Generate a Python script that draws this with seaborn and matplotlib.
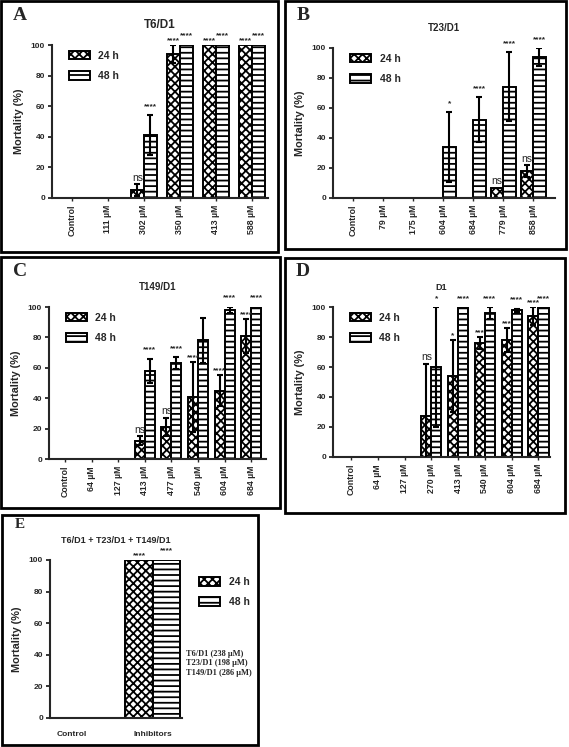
import numpy as np
import pandas as pd
import matplotlib
matplotlib.use("Agg")
import matplotlib.pyplot as plt
from matplotlib.patches import Patch, Rectangle
import seaborn as sns

# ---------------- data ----------------
hours = ["24 h", "48 h"]

a_title = "T6/D1"
a_cats = ["Control", "111 µM", "302 µM", "350 µM", "413 µM", "588 µM"]
a_24 = [0, 0, 5, 94, 100, 100]
a_24_err = [0, 0, 4, 6, 0, 0]
a_48 = [0, 0, 41, 100, 100, 100]
a_48_err = [0, 0, 13, 0, 0, 0]
a_24_sig = ["", "", "ns", "****", "****", "****"]
a_48_sig = ["", "", "****", "****", "****", "****"]

b_title = "T23/D1"
b_cats = ["Control", "79 µM", "175 µM", "604 µM", "684 µM", "779 µM", "858 µM"]
b_24 = [0, 0, 0, 0, 0, 7, 18]
b_24_err = [0, 0, 0, 0, 0, 0, 4]
b_48 = [0, 0, 0, 34, 52, 74, 94]
b_48_err = [0, 0, 0, 23, 15, 23, 6]
b_24_sig = ["", "", "", "", "", "ns", "ns"]
b_48_sig = ["", "", "", "*", "****", "****", "****"]

c_title = "T149/D1"
c_cats = ["Control", "64 µM", "127 µM", "413 µM", "477 µM", "540 µM", "604 µM", "684 µM"]
c_24 = [0, 0, 0, 12, 21, 41, 45, 81]
c_24_err = [0, 0, 0, 3, 6, 23, 10, 11]
c_48 = [0, 0, 0, 58, 63, 78, 98, 100]
c_48_err = [0, 0, 0, 8, 4, 15, 2, 0]
c_24_sig = ["", "", "", "ns", "ns", "****", "****", "****"]
c_48_sig = ["", "", "", "****", "****", "", "****", "****"]

d_title = "D1"
d_cats = ["Control", "64 µM", "127 µM", "270 µM", "413 µM", "540 µM", "604 µM", "684 µM"]
d_24 = [0, 0, 0, 27, 54, 76, 78, 94]
d_24_err = [0, 0, 0, 35, 24, 4, 8, 6]
d_48 = [0, 0, 0, 60, 100, 96, 98, 100]
d_48_err = [0, 0, 0, 40, 0, 4, 1, 0]
d_24_sig = ["", "", "", "ns", "*", "***", "***", "****"]
d_48_sig = ["", "", "", "*", "****", "****", "****", "****"]

e_title = "T6/D1 + T23/D1 + T149/D1"
e_cats = ["Control", "Inhibitors"]
e_24 = [0, 100]
e_24_err = [0, 0]
e_48 = [0, 100]
e_48_err = [0, 0]
e_24_sig = ["", "****"]
e_48_sig = ["", "****"]
e_note = ["T6/D1 (238 µM)", "T23/D1 (198 µM)", "T149/D1 (286 µM)"]

yticks = [0, 20, 40, 60, 80, 100]

# ---------------- style ----------------
sns.set_theme(style="ticks")
plt.rcParams["font.family"] = ["Liberation Sans", "DejaVu Sans"]
plt.rcParams["hatch.linewidth"] = 1.3
plt.rcParams["hatch.color"] = "black"

W, H = 569, 747
fig = plt.figure(figsize=(W / 100, H / 100), dpi=100)
fig.patch.set_facecolor("white")

HATCH = {"24 h": "xxxx", "48 h": "---"}


def ax_px(l, t, r, b):
    return fig.add_axes([l / W, 1 - b / H, (r - l) / W, (b - t) / H])


def panel(rect_px, cats, v24, e24, v48, e48, s24, s48, title, xlim, width,
          title_size=7.5, legend_anchor=(0.06, 0.99), legend_loc="upper left",
          rot=90):
    ax = ax_px(*rect_px)
    df = pd.DataFrame({
        "cat": cats * 2,
        "time": [hours[0]] * len(cats) + [hours[1]] * len(cats),
        "val": list(v24) + list(v48),
    })
    sns.barplot(data=df, x="cat", y="val", hue="time", order=cats,
                hue_order=hours, palette={h: "white" for h in hours},
                edgecolor="black", linewidth=1.4, width=width, errorbar=None,
                legend=False, ax=ax, saturation=1)
    errs = [e24, e48]
    sigs = [s24, s48]
    bar_conts = list(ax.containers)
    for k, cont in enumerate(bar_conts):
        for i, bar in enumerate(cont.patches):
            bar.set_hatch(HATCH[hours[k]])
            bar.set_edgecolor("black")
            x = bar.get_x() + bar.get_width() / 2
            h = bar.get_height()
            err = errs[k][i]
            if err > 0:
                ax.errorbar(x, h, yerr=err, fmt="none", ecolor="black",
                            elinewidth=1.5, capsize=2, capthick=1.5, zorder=5)
            lab = sigs[k][i]
            if lab:
                top = h + err
                if lab == "ns":
                    ax.text(x, top + 1, lab, ha="center", va="bottom",
                            fontsize=7.5, clip_on=False)
                else:
                    off = 0.5 if k == 0 else 3.5
                    ax.text(x, top + off, lab, ha="center", va="bottom",
                            fontsize=6, fontweight="bold", clip_on=False)
    ax.set_xlim(*xlim)
    ax.set_ylim(0, 100)
    ax.set_yticks(yticks)
    ax.set_yticklabels([str(t) for t in yticks], fontsize=6, fontweight="bold")
    ax.set_xticks(range(len(cats)))
    ax.set_xticklabels(cats, rotation=rot, fontsize=6.3, fontweight="bold")
    ax.tick_params(axis="y", length=3, width=1.3, pad=2)
    ax.tick_params(axis="x", length=2, width=1.0, pad=3)
    ax.set_xlabel("")
    ax.set_ylabel("Mortality (%)", fontsize=7.8, fontweight="bold", labelpad=5)
    sns.despine(ax=ax)
    ax.spines["left"].set_linewidth(1.5)
    ax.spines["bottom"].set_linewidth(1.5)
    ax.set_facecolor("white")
    handles = [Patch(facecolor="white", edgecolor="black", hatch=HATCH[h],
                     linewidth=1.4) for h in hours]
    leg = ax.legend(handles, hours, loc=legend_loc, bbox_to_anchor=legend_anchor,
                    frameon=False, fontsize=7.5, handlelength=2.0,
                    handleheight=0.9, labelspacing=1.0, handletextpad=0.8,
                    borderaxespad=0)
    for t in leg.get_texts():
        t.set_fontweight("bold")
    ax.set_title(title, fontsize=title_size, fontweight="bold", pad=12)
    return ax


axA = panel((52, 45, 268, 198), a_cats, a_24, a_24_err, a_48, a_48_err,
            a_24_sig, a_48_sig, a_title, (-0.55, 5.45), 0.72, title_size=8.5)
axB = panel((333, 48, 555, 198), b_cats, b_24, b_24_err, b_48, b_48_err,
            b_24_sig, b_48_sig, b_title, (-0.67, 6.73), 0.83, title_size=7)
axC = panel((49, 307, 266, 459), c_cats, c_24, c_24_err, c_48, c_48_err,
            c_24_sig, c_48_sig, c_title, (-0.6, 7.55), 0.75, title_size=7)
axD = panel((333, 307, 550, 457), d_cats, d_24, d_24_err, d_48, d_48_err,
            d_24_sig, d_48_sig, d_title, (-0.67, 7.43), 0.75, title_size=6.5)
axE = panel((50, 560, 182, 718), e_cats, e_24, e_24_err, e_48, e_48_err,
            e_24_sig, e_48_sig, e_title, (-0.27, 1.36), 0.68, title_size=6.5,
            legend_anchor=(1.1, 0.92), rot=0)
axE.set_xticklabels(e_cats, rotation=0, fontsize=6, fontweight="bold")
axE.tick_params(axis="x", length=0, pad=9)
axE.text(1.03, 0.345, "\n".join(e_note), transform=axE.transAxes,
         ha="left", va="center", fontsize=6, fontweight="bold",
         family=["Liberation Serif", "DejaVu Serif"], linespacing=1.25)

# panel frames and letters
boxes = [(1, 1, 278, 252), (285, 1, 566, 249), (1, 257, 280, 508),
         (285, 258, 565, 513), (2, 515, 258, 745)]
for (l, t, r, b) in boxes:
    fig.add_artist(Rectangle((l / W, 1 - b / H), (r - l) / W, (b - t) / H,
                             transform=fig.transFigure, fill=False,
                             edgecolor="black", linewidth=2))
letters = [("A", 20, 15, 14), ("B", 303, 15, 14), ("C", 20, 272, 14),
           ("D", 303, 272, 14), ("E", 20, 525, 11)]
for s, x, y, fs in letters:
    fig.text(x / W, 1 - y / H, s, ha="center", va="center", fontsize=fs,
             fontweight="bold", family=["Liberation Serif", "DejaVu Serif"])

fig.savefig("out.png", dpi=100, facecolor="white")
